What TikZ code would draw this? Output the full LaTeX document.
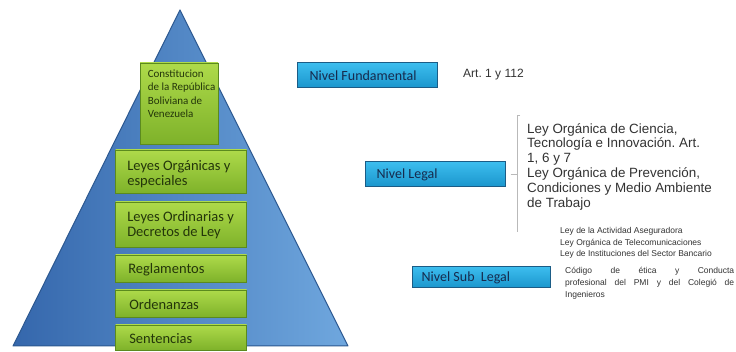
\documentclass[tikz,border=0pt]{standalone}
\usepackage{fontspec}
\setmainfont{Liberation Sans}
\newfontfamily\calfont{Carlito}
\frenchspacing
\definecolor{pyrL}{HTML}{3567AC}
\definecolor{pyrR}{HTML}{6FA7DE}
\definecolor{pyrEdge}{HTML}{2C5890}
\definecolor{grTop}{HTML}{AEDA4A}
\definecolor{grBot}{HTML}{7EB22A}
\definecolor{grEdge}{HTML}{5B8A1E}
\definecolor{grText}{HTML}{24360A}
\definecolor{blTop}{HTML}{3CBDEE}
\definecolor{blBot}{HTML}{1A95CC}
\definecolor{blEdge}{HTML}{1B5C86}
\definecolor{blText}{HTML}{162B4E}
\definecolor{txt}{HTML}{333333}
\begin{document}
\begin{tikzpicture}[x=1pt,y=-1pt,
  tier/.style={draw=grEdge,line width=0.8pt,top color=grTop,bottom color=grBot,
    minimum width=131pt,inner sep=0pt},
  tiertext/.style={text=grText,font=\calfont\fontsize{14.5}{15}\selectfont,align=left,
    inner sep=0pt,anchor=west},
  level/.style={draw=blEdge,line width=1pt,top color=blTop,bottom color=blBot,
    inner sep=0pt,anchor=center},
  leveltext/.style={text=blText,font=\calfont\fontsize{14}{15}\selectfont,inner sep=0pt,anchor=west},
  lawtext/.style={text=txt,inner sep=0pt,anchor=north west,align=left},
  brace/.style={draw=gray!55,line width=0.8pt}]
\useasboundingbox (0,0) rectangle (736,352);
\fill[white] (0,0) rectangle (736,352);

% pyramid
\path[left color=pyrL,right color=pyrR,draw=pyrEdge,line width=1pt,line join=round]
  (180,10) -- (348,346) -- (13,346) -- cycle;

% tiers of the pyramid
\node[tier,minimum width=78pt,minimum height=81pt] (cons) at (179,103.5) {};
\node[tiertext,anchor=north west,font=\calfont\fontsize{11}{13.5}\selectfont] (consT)
  at ([xshift=8pt,yshift=-7pt]cons.north west)
  {Constitucion\\de la República\\Boliviana de\\Venezuela};
\node[tier,minimum height=43pt] (org) at (181,171.5) {};
\node[tiertext] (orgT) at ([xshift=12pt,yshift=-3pt]org.west) {Leyes Orgánicas y\\especiales};
\node[tier,minimum height=45pt] (ord) at (181,224.5) {};
\node[tiertext] (ordT) at ([xshift=12pt,yshift=-1pt]ord.west) {Leyes Ordinarias y\\Decretos de Ley};
\node[tier,minimum height=27pt] (reg) at (181,268.5) {};
\node[tiertext] (regT) at ([xshift=13pt,yshift=-1pt]reg.west) {Reglamentos};
\node[tier,minimum height=27pt] (orde) at (181,303.5) {};
\node[tiertext] (ordeT) at ([xshift=14pt,yshift=-1pt]orde.west) {Ordenanzas};
\node[tier,minimum height=25pt] (sent) at (181,337.5) {};
\node[tiertext] (sentT) at ([xshift=14pt,yshift=-1pt]sent.west) {Sentencias};

% level labels
\node[level,minimum width=140pt,minimum height=25pt] (fund) at (367,75.5) {};
\node[leveltext] (fundT) at ([xshift=13pt]fund.west) {Nivel Fundamental};
\node[level,minimum width=140pt,minimum height=25pt] (legal) at (435,174.5) {};
\node[leveltext] (legalT) at ([xshift=12pt]legal.west) {Nivel Legal};
\node[level,minimum width=138pt,minimum height=21pt] (sub) at (481,277.5) {};
\node[leveltext] (subT) at ([xshift=10pt]sub.west) {Nivel Sub~~Legal};

% texts next to the levels
\node[lawtext,anchor=west,font=\fontsize{12}{14}\selectfont] (art) at (463,75) {Art. 1 y 112};
\node[lawtext,font=\fontsize{13.4}{14.8}\selectfont] (lo) at (527,123)
  {Ley Orgánica de Ciencia,\\Tecnología e Innovación. Art.\\1, 6 y 7\\Ley Orgánica de Prevención,\\Condiciones y Medio Ambiente\\de Trabajo};
\node[lawtext,font=\fontsize{8.5}{11.5}\selectfont] (other) at (560,227.5)
  {Ley de la Actividad Aseguradora\\Ley Orgánica de Telecomunicaciones\\Ley de Instituciones del Sector Bancario};
\node[lawtext,text width=169pt,align=justify,font=\fontsize{8.5}{12}\selectfont] (code) at (565,267)
  {Código de ética y Conducta\linebreak profesional del PMI y del Colegió de\linebreak Ingenieros};

% bracket joining Nivel Legal to its laws
\coordinate (bt) at (517,115);
\coordinate (bb) at (517,232);
\draw[brace] ([xshift=3pt]bt) -- (bt) -- (bb);
\draw[brace] ([xshift=5pt]legal.east) -- (bt |- legal.east);
\end{tikzpicture}
\end{document}
